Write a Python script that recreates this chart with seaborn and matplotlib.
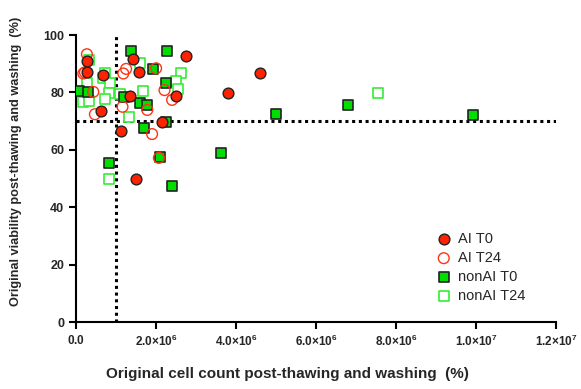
import pandas as pd
import matplotlib.pyplot as plt
import matplotlib.ticker as mticker
import seaborn as sns

# Cell count (x, in units of 1e6) and viability (%)
ai_t0_x = [0.28, 0.28, 0.68, 1.43, 1.58, 2.75, 3.79, 4.60, 1.34, 2.50, 0.62, 2.14, 1.13, 1.51]
ai_t0_y = [90.8, 87.2, 86.1, 91.6, 87.1, 92.7, 79.8, 86.8, 78.7, 78.7, 73.6, 69.6, 66.5, 49.8]

ai_t24_x = [0.27, 0.18, 0.22, 0.43, 0.47, 1.18, 1.25, 1.16, 2.00, 2.21, 2.40, 1.78, 1.90, 2.07]
ai_t24_y = [93.3, 86.6, 87.0, 80.2, 72.4, 86.6, 88.2, 75.0, 88.4, 80.8, 77.4, 73.9, 65.5, 57.2]

nonai_t0_x = [0.075, 0.29, 1.36, 2.27, 1.92, 2.25, 1.20, 1.61, 1.78, 2.25, 1.70, 3.63,
              2.10, 0.81, 2.39, 5.00, 6.79, 9.93]
nonai_t0_y = [80.5, 80.2, 94.6, 94.6, 88.0, 83.4, 78.3, 76.4, 75.6, 69.8, 67.5, 58.8,
              57.4, 55.3, 47.4, 72.6, 75.5, 72.1]

nonai_t24_x = [0.31, 0.27, 0.18, 0.31, 0.73, 0.67, 0.85, 0.82, 0.73, 1.10, 1.60, 1.68,
               2.63, 2.50, 2.54, 1.31, 0.83, 7.54]
nonai_t24_y = [91.3, 83.4, 76.7, 77.0, 86.9, 84.9, 83.2, 79.7, 77.6, 79.3, 90.1, 80.6,
               86.9, 84.0, 81.2, 71.5, 49.8, 79.9]

count_cutoff = 1.0e6
viability_cutoff = 70

groups = {
    "AI T0": (ai_t0_x, ai_t0_y),
    "AI T24": (ai_t24_x, ai_t24_y),
    "nonAI T0": (nonai_t0_x, nonai_t0_y),
    "nonAI T24": (nonai_t24_x, nonai_t24_y),
}
frames = []
for name, (xs, ys) in groups.items():
    frames.append(pd.DataFrame({"count": [v * 1e6 for v in xs], "viability": ys, "group": name}))
df = pd.concat(frames, ignore_index=True)

sns.set_style("ticks")
plt.rcParams["font.family"] = ["Liberation Sans", "DejaVu Sans"]
plt.rcParams["mathtext.fontset"] = "custom"
plt.rcParams["mathtext.rm"] = "Liberation Sans"
plt.rcParams["mathtext.bf"] = "Liberation Sans:bold"

fig = plt.figure(figsize=(5.81, 3.89), dpi=100)
ax = fig.add_axes([0.131, 0.172, 0.826, 0.738])

styles = {
    "nonAI T24": dict(marker="s", facecolor="white", edgecolor="#33ee33", linewidth=1.2),
    "nonAI T0": dict(marker="s", facecolor="#00dd00", edgecolor="#222222", linewidth=1.2),
    "AI T24": dict(marker="o", facecolor="none", edgecolor="#ff3311", linewidth=1.0),
    "AI T0": dict(marker="o", facecolor="#ff2200", edgecolor="#222222", linewidth=1.0),
}
for name in ["nonAI T24", "nonAI T0", "AI T24", "AI T0"]:
    sub = df[df["group"] == name]
    sns.scatterplot(data=sub, x="count", y="viability", ax=ax, s=60, label=name,
                    zorder=3, **styles[name])

ax.axvline(count_cutoff, color="black", linestyle=(0, (1, 1.2)), linewidth=2.2, zorder=2)
ax.axhline(viability_cutoff, color="black", linestyle=(0, (1, 1.2)), linewidth=2.2, zorder=2)

ax.set_xlim(0, 1.2e7)
ax.set_ylim(0, 100)
ax.set_xticks([0, 2e6, 4e6, 6e6, 8e6, 1e7, 1.2e7])
ax.set_yticks([0, 20, 40, 60, 80, 100])


def sci_fmt(v, pos):
    if v == 0:
        return r"$\mathbf{0.0}$"
    e = int(f"{v:e}".split("e")[1])
    m = v / 10 ** e
    return r"$\mathbf{%.1f{\times}10^{%d}}$" % (m, e)


ax.xaxis.set_major_formatter(mticker.FuncFormatter(sci_fmt))
for lab in ax.get_yticklabels():
    lab.set_fontweight("bold")
ax.tick_params(axis="x", labelsize=8.5)
ax.tick_params(axis="y", labelsize=9)
ax.tick_params(axis="both", width=1.5, length=5, color="black")
for side in ["left", "bottom"]:
    ax.spines[side].set_linewidth(1.5)
    ax.spines[side].set_color("black")
sns.despine(ax=ax)

ax.set_xlabel("Original cell count post-thawing and washing  (%)", fontsize=11,
              fontweight="bold")
ax.set_ylabel("Original viability post-thawing and washing  (%)", fontsize=9.2,
              fontweight="bold")
ax.xaxis.set_label_coords(0.44, -0.155)
ax.yaxis.set_label_coords(-0.112, 0.56)

handles, labels = ax.get_legend_handles_labels()
order = [labels.index(n) for n in ["AI T0", "AI T24", "nonAI T0", "nonAI T24"]]
ax.legend([handles[i] for i in order], [labels[i] for i in order], frameon=False,
          loc="lower right", bbox_to_anchor=(0.963, 0.02), fontsize=10.5,
          handlelength=1.2, handletextpad=0.36, labelspacing=0.35, markerscale=1.0)

plt.savefig("out.png", dpi=100)
plt.close()
